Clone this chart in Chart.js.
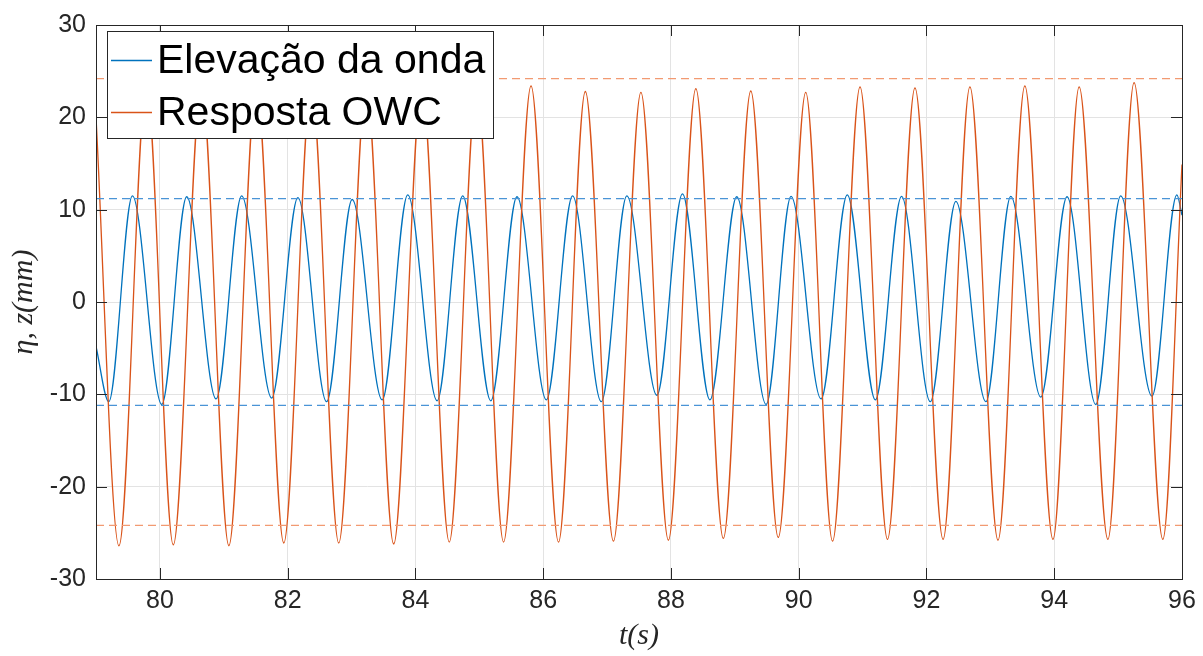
<!DOCTYPE html>
<html>
<head>
<meta charset="utf-8">
<script src="https://cdn.jsdelivr.net/npm/chart.js@4.4.0/dist/chart.umd.min.js"></script>
<style>
  body { margin: 0; background: #ffffff; }
  #wrap { width: 1203px; height: 656px; }
</style>
</head>
<body>
<div id="wrap"><canvas id="waveChart" width="1203" height="656"></canvas></div>
<script>
// time window (s)
const tStart = 79;
const tEnd = 96;
const xTicks = [80, 82, 84, 86, 88, 90, 92, 94, 96];
const yTicks = [-30, -20, -10, 0, 10, 20, 30];

// wave elevation: crests and troughs (t, mm)
const elevTime = [79.00, 79.20, 79.57, 80.03, 80.42, 80.88, 81.28, 81.75, 82.16, 82.61,
  83.01, 83.48, 83.88, 84.34, 84.74, 85.18, 85.59, 86.05, 86.46, 86.91,
  87.31, 87.78, 88.18, 88.61, 89.03, 89.49, 89.88, 90.35, 90.76, 91.20,
  91.61, 92.06, 92.46, 92.93, 93.32, 93.79, 94.20, 94.65, 95.04, 95.53,
  95.92, 96.00];
const elevValue = [-4.8, -10.8, 11.5, -11.1, 11.4, -10.5, 11.5, -10.4, 11.3, -10.8,
  11.1, -10.6, 11.6, -10.7, 11.5, -10.7, 11.4, -10.6, 11.5, -10.8,
  11.5, -10.1, 11.7, -10.6, 11.4, -11.1, 11.45, -10.5, 11.6, -10.6,
  11.45, -10.8, 10.9, -10.8, 11.45, -10.3, 11.4, -11.1, 11.5, -10.2,
  11.6, 9.4];

// OWC response: crests and troughs (t, mm)
const owcTime = [79.00, 79.36, 79.79, 80.21, 80.65, 81.08, 81.51, 81.94, 82.37, 82.80,
  83.23, 83.66, 84.10, 84.53, 84.96, 85.38, 85.81, 86.24, 86.66, 87.10,
  87.53, 87.96, 88.39, 88.82, 89.25, 89.68, 90.11, 90.53, 90.96, 91.39,
  91.82, 92.26, 92.68, 93.12, 93.54, 93.98, 94.39, 94.84, 95.25, 95.70,
  96.00];
const owcValue = [20.0, -26.4, 23.5, -26.3, 23.5, -26.4, 23.5, -26.1, 23.4, -26.1,
  23.4, -26.2, 23.4, -26.0, 23.4, -26.0, 23.4, -26.0, 22.8, -25.9,
  22.7, -25.8, 23.1, -25.6, 22.85, -25.5, 22.7, -25.9, 23.3, -25.7,
  23.2, -25.7, 23.3, -25.8, 23.4, -25.7, 23.3, -25.7, 23.75, -25.7,
  14.9];

// amplitude reference lines (mm)
const elevLimits = [11.2, -11.2];
const owcLimits = [24.2, -24.2];

const blue = "#0072BD";
const orange = "#D95319";
const blueDash = "#4A94D6";
const orangeDash = "#F29A72";
const axisColor = "#262626";

function toPoints(ts, vs) {
  return ts.map((t, i) => ({ x: t, y: vs[i] }));
}

function refLine(v, color) {
  return {
    data: [{ x: tStart, y: v }, { x: tEnd, y: v }],
    borderColor: color,
    borderWidth: 1.2,
    borderDash: [8, 5],
    pointRadius: 0,
  };
}

const datasets = [];
owcLimits.forEach((v) => datasets.push(refLine(v, orangeDash)));
elevLimits.forEach((v) => datasets.push(refLine(v, blueDash)));
datasets.push({
  label: "Resposta OWC",
  data: toPoints(owcTime, owcValue),
  borderColor: orange,
  borderWidth: 1.3,
  pointRadius: 0,
  cubicInterpolationMode: "monotone",
});
datasets.push({
  label: "Elevação da onda",
  data: toPoints(elevTime, elevValue),
  borderColor: blue,
  borderWidth: 1.3,
  pointRadius: 0,
  cubicInterpolationMode: "monotone",
});

// box, inward ticks and the legend on top of the curves
const boxPlugin = {
  id: "boxPlugin",
  afterDatasetsDraw(chart) {
    const ctx = chart.ctx;
    const a = chart.chartArea;
    const xs = chart.scales.x;
    const ys = chart.scales.y;
    const tl = 11;
    ctx.save();
    ctx.strokeStyle = axisColor;
    ctx.lineWidth = 1;
    ctx.beginPath();
    xTicks.forEach((v) => {
      const px = Math.round(xs.getPixelForValue(v)) + 0.5;
      ctx.moveTo(px, a.bottom); ctx.lineTo(px, a.bottom - tl);
      ctx.moveTo(px, a.top); ctx.lineTo(px, a.top + tl);
    });
    yTicks.forEach((v) => {
      const py = Math.round(ys.getPixelForValue(v)) + 0.5;
      ctx.moveTo(a.left, py); ctx.lineTo(a.left + tl, py);
      ctx.moveTo(a.right, py); ctx.lineTo(a.right - tl, py);
    });
    ctx.stroke();
    ctx.strokeRect(Math.round(a.left) + 0.5, Math.round(a.top) + 0.5,
      Math.round(a.right - a.left), Math.round(a.bottom - a.top));

    // legend
    const lx = 107, ly = 31, lw = 386, lh = 107;
    ctx.fillStyle = "#ffffff";
    ctx.fillRect(lx, ly, lw, lh);
    ctx.strokeRect(lx + 0.5, ly + 0.5, lw, lh);
    const items = [
      { text: "Elevação da onda", color: blue, y: 60 },
      { text: "Resposta OWC", color: orange, y: 112 },
    ];
    ctx.font = "41px 'Liberation Sans', Arial, sans-serif";
    ctx.textBaseline = "middle";
    items.forEach((it) => {
      ctx.strokeStyle = it.color;
      ctx.lineWidth = 1.3;
      ctx.beginPath();
      ctx.moveTo(111, it.y + 0.5);
      ctx.lineTo(152, it.y + 0.5);
      ctx.stroke();
      ctx.fillStyle = "#000000";
      ctx.fillText(it.text, 157, it.y + 2);
    });
    ctx.restore();
  },
};

const tickFont = { family: "'Liberation Sans', Arial, sans-serif", size: 25 };
const titleFont = { family: "'Liberation Serif', 'DejaVu Serif', serif", size: 30, style: "italic" };

new Chart(document.getElementById("waveChart"), {
  type: "line",
  data: { datasets: datasets },
  options: {
    responsive: false,
    animation: false,
    devicePixelRatio: 1,
    layout: { padding: { top: 19, right: 21, left: 0, bottom: 0 } },
    plugins: {
      legend: { display: false },
      tooltip: { enabled: false },
    },
    scales: {
      x: {
        type: "linear",
        min: tStart,
        max: tEnd,
        afterBuildTicks: (scale) => {
          scale.ticks = xTicks.map((v) => ({ value: v }));
        },
        afterFit: (scale) => { scale.height = 77; },
        grid: { color: "#e3e3e3", lineWidth: 1, drawTicks: false },
        border: { display: false },
        ticks: { color: axisColor, font: tickFont, padding: 7, maxRotation: 0 },
        title: {
          display: true,
          text: "t(s)",
          color: axisColor,
          font: titleFont,
          padding: { top: 0, bottom: 2 },
        },
      },
      y: {
        type: "linear",
        min: -30,
        max: 30,
        afterBuildTicks: (scale) => {
          scale.ticks = yTicks.map((v) => ({ value: v }));
        },
        afterFit: (scale) => { scale.width = 96; },
        grid: { color: "#e3e3e3", lineWidth: 1, drawTicks: false },
        border: { display: false },
        ticks: { color: axisColor, font: tickFont, padding: 10 },
        title: {
          display: true,
          text: "η, z(mm)",
          color: axisColor,
          font: titleFont,
          padding: { top: 6, bottom: 0 },
        },
      },
    },
  },
  plugins: [boxPlugin],
});
</script>
</body>
</html>
